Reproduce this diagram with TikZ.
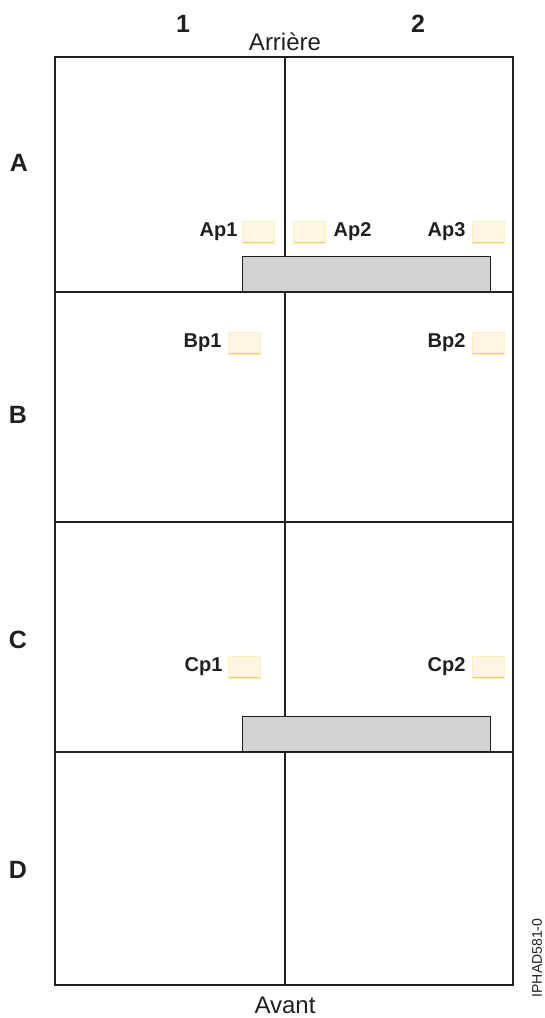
\documentclass[tikz,border=0pt]{standalone}
\usepackage{fontspec}
\setmainfont{Liberation Sans}
\usetikzlibrary{positioning}
\definecolor{inkBlack}{RGB}{35, 31, 32}
\definecolor{barGray}{RGB}{209, 210, 212}
\definecolor{slotFill}{RGB}{255, 247, 226}
\definecolor{slotRim}{RGB}{253, 236, 196}
\definecolor{slotEdge}{RGB}{250, 204, 100}

\begin{document}
\begin{tikzpicture}[
    x=1pt, y=-1pt,
    frame/.style={draw=inkBlack, line width=2pt},
    bar/.style={rectangle, draw=inkBlack, fill=barGray, line width=1pt,
                inner sep=0pt, anchor=south west,
                minimum width=248pt, minimum height=35pt},
    slot/.style={rectangle, draw=slotRim, fill=slotFill, line width=0.8pt,
                 inner sep=0pt, minimum width=32pt, minimum height=22pt,
                 path picture={\draw[slotEdge, line width=3pt]
                   (path picture bounding box.south west) --
                   (path picture bounding box.south east);}},
    plabel/.style={font=\fontsize{20}{24}\selectfont\bfseries,
                   text=inkBlack, inner sep=0pt},
    heading/.style={font=\fontsize{25}{30}\selectfont\bfseries, text=inkBlack},
    side/.style={font=\fontsize{24}{28}\selectfont, text=inkBlack},
  ]
    \useasboundingbox (0,0) rectangle (544,1018);

    % Frame and grid
    \draw[frame] (55,57) rectangle (513,985);
    \draw[frame] (285,57) -- (285,985);
    \foreach \y in {292, 522, 752}
      \draw[frame] (55,\y) -- (513,\y);

    % Gray bars
    \node[bar] (barA) at (242,292) {};
    \node[bar] (barC) at (242,752) {};

    % Headings
    \node[heading] (col1) at (183,24) {1};
    \node[heading] (col2) at (418,24) {2};
    \node[side] (back) at (285,42) {Arrière};
    \node[side] (front) at (285,1005) {Avant};
    \node[heading] (rowA) at (19,163) {A};
    \node[heading] (rowB) at (18,415) {B};
    \node[heading] (rowC) at (18,640) {C};
    \node[heading] (rowD) at (18,870) {D};

    % Row A
    \node[slot] (ap1) at (258,232) {};
    \node[slot] (ap2) at (309,232) {};
    \node[slot] (ap3) at (488,232) {};
    \node[plabel, left=4pt of ap1] (ap1l) {Ap1};
    \node[plabel, right=8pt of ap2] (ap2l) {Ap2};
    \node[plabel, left=6pt of ap3] (ap3l) {Ap3};

    % Row B
    \node[slot] (bp1) at (244,343) {};
    \node[slot] (bp2) at (488,343) {};
    \node[plabel, left=6pt of bp1] (bp1l) {Bp1};
    \node[plabel, left=6pt of bp2] (bp2l) {Bp2};

    % Row C
    \node[slot] (cp1) at (244,667) {};
    \node[slot] (cp2) at (488,667) {};
    \node[plabel, left=5pt of cp1] (cp1l) {Cp1};
    \node[plabel, left=6pt of cp2] (cp2l) {Cp2};

    \node[font=\fontsize{14}{16}\selectfont, rotate=90, text=inkBlack]
         (figid) at (537,958) {IPHAD581-0};
  \end{tikzpicture}
\end{document}
